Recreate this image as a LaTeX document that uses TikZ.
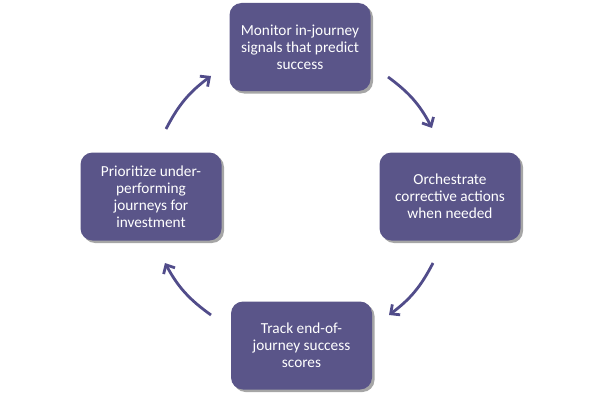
\documentclass[tikz,border=0pt]{standalone}
\usepackage{fontspec}
\setmainfont{Carlito}
\usetikzlibrary{shadows,arrows.meta}
\definecolor{boxc}{HTML}{5A5589}
\definecolor{arrc}{HTML}{514C8A}
\tikzset{
  stepbox/.style={draw=none, fill=boxc, rounded corners=12pt, minimum width=141pt,
    minimum height=88pt, text=white, align=center, inner sep=2pt,
    font=\fontsize{15.3}{17}\selectfont,
    drop shadow={shadow xshift=2.5pt, shadow yshift=-2.5pt, fill=black, opacity=0.35}},
  cyc/.style={draw=arrc, line width=2.8pt, -{Straight Barb[length=7pt,width=13pt,line width=2.8pt]}}
}
\begin{document}
\begin{tikzpicture}[x=1pt,y=1pt]
\useasboundingbox (0,0) rectangle (600,400);
\node[stepbox] (mon) at (300,353) {Monitor in-journey\\signals that predict\\success};
\node[stepbox] (orc) at (450,203.5) {Orchestrate\\corrective actions\\when needed};
\node[stepbox] (trk) at (301.5,54.5) {Track end-of-\\journey success\\scores};
\node[stepbox] (pri) at (151,203.5) {Prioritize under-\\performing\\journeys for\\investment};
\coordinate (a1s) at (388,323); \coordinate (a1e) at (432,272);
\coordinate (a2s) at (433,137); \coordinate (a2e) at (389,85);
\coordinate (a3s) at (211,85);  \coordinate (a3e) at (165,137);
\coordinate (a4s) at (166,271); \coordinate (a4e) at (211,324);
\draw[cyc] (a1s) to[bend left=13] (a1e);
\draw[cyc] (a2s) to[bend left=13] (a2e);
\draw[cyc] (a3s) to[bend left=13] (a3e);
\draw[cyc] (a4s) to[bend left=13] (a4e);
\end{tikzpicture}
\end{document}
